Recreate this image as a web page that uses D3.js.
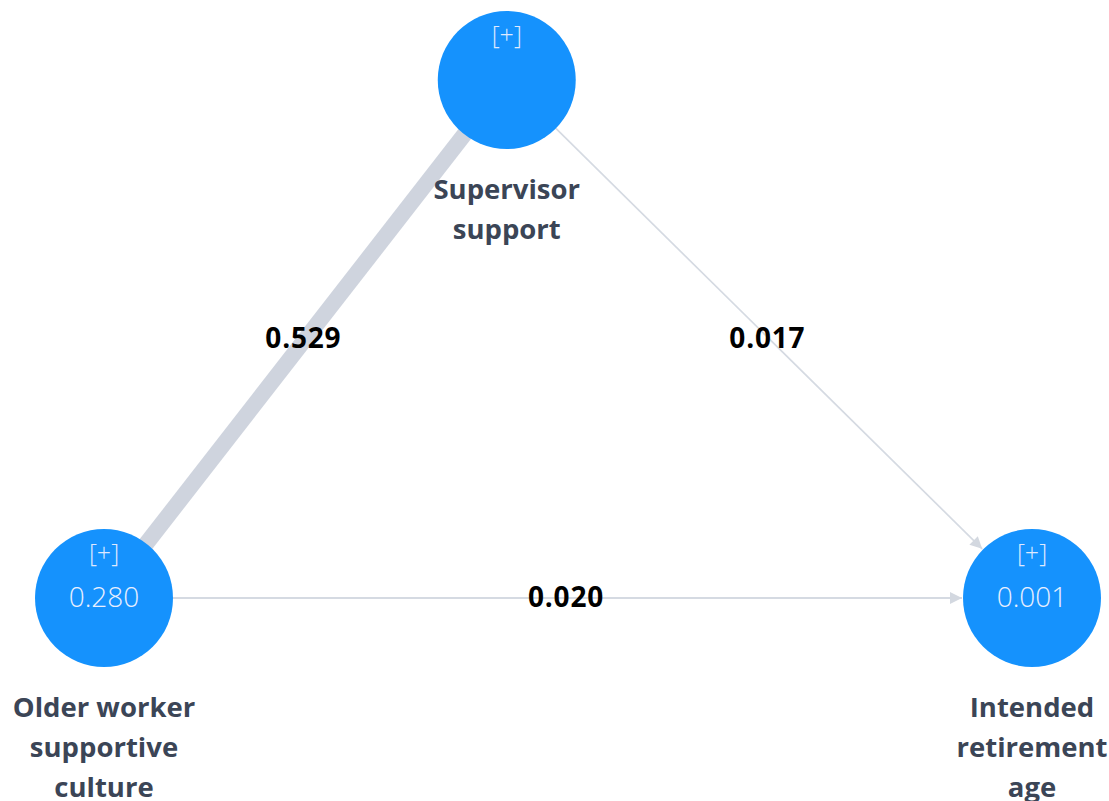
<!DOCTYPE html>
<html><head><meta charset="utf-8">
<script src="https://cdn.jsdelivr.net/npm/d3@7"></script>
<style>body{margin:0;background:#fff}svg{display:block}</style>
</head><body>
<svg id="c" width="1109" height="801"></svg>
<script>
const nodeNames = ["Supervisor support", "Older worker supportive culture", "Intended retirement age"];
const nodeLabelLines = [["Supervisor","support"],["Older worker","supportive","culture"],["Intended","retirement","age"]];
const nodeR2 = [null, "0.280", "0.001"];
const edgeSource = [0, 0, 1];
const edgeTarget = [1, 2, 2];
const edgeValues = [0.529, 0.017, 0.020];

// layout (abstract grid coordinates)
const layoutX = [0.434, 0, 1];
const layoutY = [0, 1, 1];

const svg = d3.select("#c");
const x = d3.scaleLinear().domain([0,1]).range([104,1032]);
const y = d3.scaleLinear().domain([0,1]).range([80,598]);
const w = d3.scaleLinear().domain([0,0.529]).range([1.2,16]);
const R = 69;
const font = "'Open Sans', sans-serif";

const defs = svg.append("defs");
defs.append("marker").attr("id","arr").attr("viewBox","0 0 10 10")
  .attr("refX",10).attr("refY",5).attr("markerWidth",16).attr("markerHeight",12)
  .attr("markerUnits","userSpaceOnUse").attr("orient","auto")
  .append("path").attr("d","M0,0L10,5L0,10Z").attr("fill","#d3d8e0");

const nodes = nodeNames.map((n,i)=>({name:n, x:x(layoutX[i]), y:y(layoutY[i]), r2:nodeR2[i], lines:nodeLabelLines[i]}));
const edges = edgeValues.map((v,i)=>({s:nodes[edgeSource[i]], t:nodes[edgeTarget[i]], v}));

const eg = svg.append("g");
edges.forEach(e=>{
  const dx=e.t.x-e.s.x, dy=e.t.y-e.s.y, L=Math.hypot(dx,dy);
  const ux=dx/L, uy=dy/L;
  const thick = w(e.v) > 5;
  const x1=e.s.x+ux*(thick?0:R), y1=e.s.y+uy*(thick?0:R);
  const x2=e.t.x-ux*(thick?0:R+1), y2=e.t.y-uy*(thick?0:R+1);
  eg.append("line").attr("x1",x1).attr("y1",y1).attr("x2",x2).attr("y2",y2)
    .attr("stroke", thick?"#cfd4de":"#d5dae2").attr("stroke-width",w(e.v))
    .attr("marker-end", thick?null:"url(#arr)");
});

const ng = svg.append("g");
nodes.forEach(n=>{
  ng.append("circle").attr("cx",n.x).attr("cy",n.y).attr("r",R).attr("fill","#1592fd");
  ng.append("text").attr("x",n.x).attr("y",n.y-46).attr("text-anchor","middle")
    .attr("dominant-baseline","central").attr("fill","#dfe9ff").attr("font-family",font)
    .attr("font-size",25).attr("font-weight",300).text("[+]");
  if(n.r2) ng.append("text").attr("x",n.x).attr("y",n.y-2).attr("text-anchor","middle")
    .attr("dominant-baseline","central").attr("fill","#e8efff").attr("font-family",font)
    .attr("font-size",28).attr("font-weight",300).text(n.r2);
  n.lines.forEach((l,k)=>{
    ng.append("text").attr("x",n.x).attr("y",n.y+108+k*40).attr("text-anchor","middle")
      .attr("dominant-baseline","central").attr("fill","#3b4556").attr("font-family",font)
      .attr("font-size",27.5).attr("font-weight",700).text(l);
  });
});

const lg = svg.append("g");
edges.forEach(e=>{
  const mx=(e.s.x+e.t.x)/2, my=(e.s.y+e.t.y)/2;
  lg.append("text").attr("x",mx-2).attr("y",my-2).attr("text-anchor","middle")
    .attr("dominant-baseline","central").attr("fill","#000").attr("font-family",font)
    .attr("font-size",28).attr("font-weight",700).attr("letter-spacing",0.8).text(e.v.toFixed(3));
});
</script>
</body></html>
